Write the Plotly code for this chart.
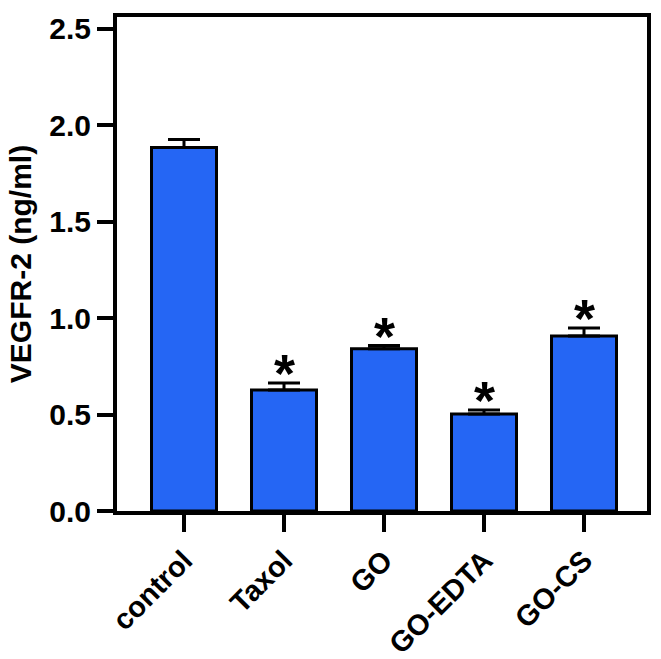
import plotly.graph_objects as go

categories = ["control", "Taxol", "GO", "GO-EDTA", "GO-CS"]
values = [1.885, 0.628, 0.842, 0.503, 0.908]
errors = [0.042, 0.036, 0.016, 0.021, 0.041]
signif = ["", "*", "*", "*", "*"]
y_ticks = [0.0, 0.5, 1.0, 1.5, 2.0, 2.5]
y_tick_labels = ["0.0", "0.5", "1.0", "1.5", "2.0", "2.5"]

FONT = "Arial, Liberation Sans, Helvetica, sans-serif"

fig = go.Figure()
fig.add_trace(go.Bar(
    x=categories, y=values, width=0.65,
    marker=dict(color="#2566f4", line=dict(color="black", width=3)),
    error_y=dict(type="data", array=errors, arrayminus=[0]*len(errors),
                 symmetric=False, color="black", thickness=3, width=16),
    showlegend=False,
))

for c, v, e, s in zip(categories, values, errors, signif):
    if s:
        fig.add_annotation(
            x=c, y=v + e, xref="x", yref="y", text=s, showarrow=False,
            yanchor="bottom", yshift=-22,
            font=dict(family=FONT, size=54, color="black", weight="bold"),
        )

fig.update_layout(
    width=661, height=659,
    margin=dict(l=117, r=14, t=17, b=148),
    plot_bgcolor="white", paper_bgcolor="white",
    font=dict(family=FONT, color="black"),
)
fig.update_xaxes(
    type="category", range=[-0.67, 4.63], automargin=False,
    showline=True, linecolor="black", linewidth=4, mirror=True,
    ticks="outside", ticklen=17, tickwidth=4, tickcolor="black",
    tickangle=-45, tickfont=dict(family=FONT, size=29, weight="bold"),
    showgrid=False, zeroline=False,
)
fig.update_yaxes(
    range=[0, 2.562], tickvals=y_ticks, ticktext=y_tick_labels, automargin=False,
    showline=True, linecolor="black", linewidth=4, mirror=True,
    ticks="outside", ticklen=16, tickwidth=4, tickcolor="black",
    tickfont=dict(family=FONT, size=30, weight="bold"),
    title=dict(text="VEGFR-2 (ng/ml)", font=dict(family=FONT, size=30, weight="bold"), standoff=10),
    showgrid=False, zeroline=False,
)

fig.write_html("out.html", config={"displayModeBar": False},
               post_script="document.body.style.margin='0';")
